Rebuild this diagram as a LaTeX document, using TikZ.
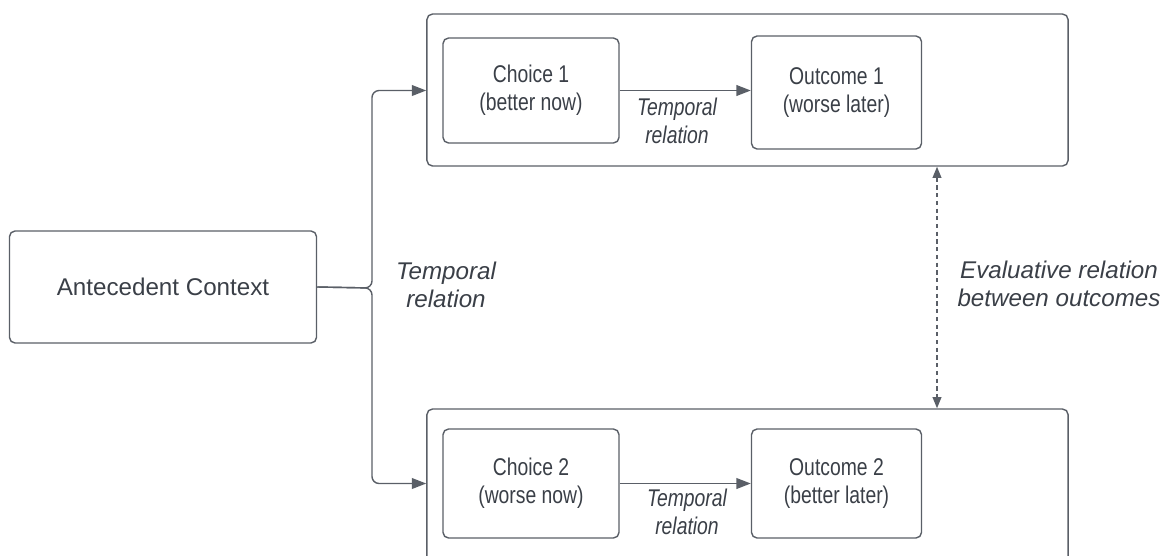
\documentclass[tikz,border=0pt]{standalone}
\usepackage{fontspec}
\setmainfont{Liberation Sans}
\newfontfamily\narrowsans[FakeStretch=0.8]{Liberation Sans}
\usepackage{tikz}
\usetikzlibrary{arrows.meta,positioning,calc}
\usepackage{xcolor}
\definecolor{textgrey}{HTML}{3A3F47}
\definecolor{linegrey}{HTML}{5A5F67}

\begin{document}
\begin{tikzpicture}[x=0.025cm, y=-0.025cm,
  >={Triangle[length=0.36cm,width=0.27cm]},
  box/.style={draw=linegrey, line width=1pt, rounded corners=4pt, align=center,
    text=textgrey, font=\fontsize{17.2}{20}\selectfont, inner sep=0pt},
  inbox/.style={box, font=\narrowsans\fontsize{17.2}{20}\selectfont},
  rel/.style={text=textgrey, align=center, font=\fontsize{17.2}{20}\selectfont\itshape},
  inrel/.style={rel, font=\narrowsans\fontsize{17.2}{20}\selectfont\itshape},
  link/.style={->, draw=linegrey, line width=1pt}]
  \useasboundingbox (0,0) rectangle (1170,555);

  % Antecedent
  \node[box, minimum width=7.675cm, minimum height=2.8cm] (ante) at (163,287) {Antecedent Context};

  % top group
  \node[box, minimum width=16.025cm, minimum height=3.8cm] (top) at (747.5,90) {};
  \node[inbox, minimum width=4.4cm, minimum height=2.625cm] (c1) at (531,90.5) {Choice 1\\(better now)};
  \node[inbox, minimum width=4.25cm, minimum height=2.825cm] (o1) at (836.5,92.5) {Outcome 1\\(worse later)};

  % bottom group
  \node[box, minimum width=16.025cm, minimum height=4.55cm] (bot) at (747.5,500) {};
  \node[inbox, minimum width=4.4cm, minimum height=2.725cm] (c2) at (531,483.5) {Choice 2\\(worse now)};
  \node[inbox, minimum width=4.25cm, minimum height=2.725cm] (o2) at (836.5,483.5) {Outcome 2\\(better later)};

  % Arrows
  \coordinate (fork) at (372,288);
  \draw[link, rounded corners=5pt] (ante.east) -- (fork) |- (c1.west -| top.west);
  \draw[link, rounded corners=5pt] (ante.east) -- (fork) |- (c2.west -| bot.west);
  \draw[link] (c1.east) -- (c1.east -| o1.west);
  \draw[link] (c2.east) -- (c2.east -| o2.west);
  \coordinate (ev) at (937,0);
  \draw[{Triangle[length=0.28cm,width=0.22cm]}-{Triangle[length=0.28cm,width=0.22cm]},
    draw=linegrey, line width=1pt, dash pattern=on 3pt off 2.5pt] (ev |- top.south) -- (ev |- bot.north);

  % Labels
  \node[rel] (tl) at (446,285) {Temporal\\relation};
  \node[inrel] (t1) at (677,121) {Temporal\\relation};
  \node[inrel] (t2) at (687,512) {Temporal\\relation};
  \node[rel] (evl) at (1059,284) {Evaluative relation\\between outcomes};
\end{tikzpicture}
\end{document}
